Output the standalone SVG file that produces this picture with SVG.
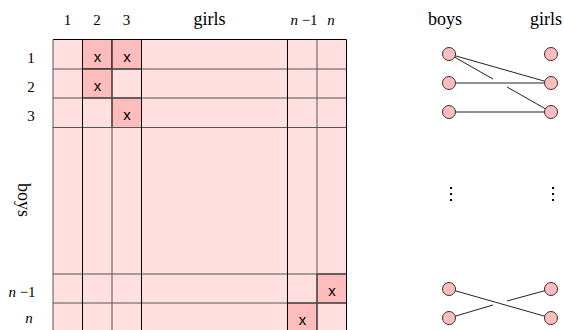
<svg xmlns="http://www.w3.org/2000/svg" width="564" height="330" viewBox="0 0 564 330">
<style>
.lbl{font-family:"Liberation Serif",serif;font-size:15px;fill:#000;text-anchor:middle}
.wd{font-family:"Liberation Serif",serif;font-size:18px;fill:#000;text-anchor:middle}
.it{font-style:italic}
.x{font-family:"Liberation Sans",sans-serif;font-size:15px;fill:#000;text-anchor:middle}
.hl{fill:#ffbcbc;stroke:#000;stroke-width:1}
.v{stroke:#000;stroke-width:1}
.h{stroke:#555;stroke-width:1}
.node{fill:#ffbcbc;stroke:#333;stroke-width:1}
.edge{stroke:#222;stroke-width:1;fill:none}
</style>
<g id="matrix">
<rect x="53" y="39.5" width="293.5" height="295" fill="#ffdfdf"/>
<g id="highlights">
<rect class="hl" x="82.5" y="39.5" width="29.5" height="29.5"/>
<rect class="hl" x="112" y="39.5" width="29.5" height="29.5"/>
<rect class="hl" x="82.5" y="69" width="29.5" height="29"/>
<rect class="hl" x="112" y="98" width="29.5" height="29.5"/>
<rect class="hl" x="317" y="274" width="29.5" height="29"/>
<rect class="hl" x="287.5" y="303" width="29.5" height="30"/>
</g>
<g id="grid">
<line class="h" x1="53" y1="39.5" x2="346.5" y2="39.5" style="stroke:#000"/>
<line class="h" x1="53" y1="69" x2="346.5" y2="69"/>
<line class="h" x1="53" y1="98" x2="346.5" y2="98"/>
<line class="h" x1="53" y1="127.5" x2="346.5" y2="127.5"/>
<line class="h" x1="53" y1="274" x2="346.5" y2="274"/>
<line class="h" x1="53" y1="303" x2="346.5" y2="303"/>
<line class="v" x1="53" y1="39.5" x2="53" y2="330" style="stroke:#555"/>
<line class="v" x1="82.5" y1="39.5" x2="82.5" y2="330"/>
<line class="v" x1="112" y1="39.5" x2="112" y2="330" style="stroke:#555"/>
<line class="v" x1="141.5" y1="39.5" x2="141.5" y2="330"/>
<line class="v" x1="287.5" y1="39.5" x2="287.5" y2="330"/>
<line class="v" x1="317" y1="39.5" x2="317" y2="330" style="stroke:#555"/>
<line class="v" x1="346.5" y1="39.5" x2="346.5" y2="330"/>
</g>
<g id="marks">
<text class="x" x="97.5" y="62">x</text>
<text class="x" x="127" y="62">x</text>
<text class="x" x="97.5" y="91">x</text>
<text class="x" x="127" y="120">x</text>
<text class="x" x="332" y="296">x</text>
<text class="x" x="302.5" y="325">x</text>
</g>
<g id="labels">
<text class="lbl" x="67.5" y="25">1</text>
<text class="lbl" x="97" y="25">2</text>
<text class="lbl" x="126.5" y="25">3</text>
<text class="wd" x="209.5" y="25">girls</text>
<text class="lbl" x="304" y="25"><tspan class="it">n</tspan> −1</text>
<text class="lbl it" x="331" y="25">n</text>
<text class="lbl" x="31" y="63">1</text>
<text class="lbl" x="31" y="92">2</text>
<text class="lbl" x="31" y="121">3</text>
<text class="lbl" x="22" y="297"><tspan class="it">n</tspan> −1</text>
<text class="lbl it" x="29" y="323">n</text>
<text class="wd" transform="translate(18,200) rotate(90)" x="0" y="0">boys</text>
</g>
</g>
<g id="graph-labels">
<text class="wd" x="445" y="25">boys</text>
<text class="wd" x="546" y="25">girls</text>
</g>
<g id="connectors">
<line class="edge" x1="449" y1="54" x2="551" y2="83"/>
<path class="edge" d="M449 54 L493 79 M507 87 L551 112"/>
<line class="edge" x1="449" y1="83" x2="551" y2="83"/>
<line class="edge" x1="449" y1="112" x2="551" y2="112"/>
<line class="edge" x1="449" y1="289" x2="551" y2="318"/>
<path class="edge" d="M449 318 L493 305 M507 301 L551 289"/>
</g>
<g id="b1"><circle class="node" cx="449" cy="54" r="6.5"/></g>
<g id="b2"><circle class="node" cx="449" cy="83" r="6.5"/></g>
<g id="b3"><circle class="node" cx="449" cy="112" r="6.5"/></g>
<g id="g1"><circle class="node" cx="551" cy="54" r="6.5"/></g>
<g id="g2"><circle class="node" cx="551" cy="83" r="6.5"/></g>
<g id="g3"><circle class="node" cx="551" cy="112" r="6.5"/></g>
<g id="bn1"><circle class="node" cx="449" cy="289" r="6.5"/></g>
<g id="bn"><circle class="node" cx="449" cy="318" r="6.5"/></g>
<g id="gn1"><circle class="node" cx="551" cy="289" r="6.5"/></g>
<g id="gn"><circle class="node" cx="551" cy="318" r="6.5"/></g>
<g id="dots" fill="#000">
<rect x="450" y="187" width="2" height="2"/>
<rect x="450" y="193" width="2" height="2"/>
<rect x="450" y="199" width="2" height="2"/>
<rect x="552" y="187" width="2" height="2"/>
<rect x="552" y="193" width="2" height="2"/>
<rect x="552" y="199" width="2" height="2"/>
</g>
</svg>
